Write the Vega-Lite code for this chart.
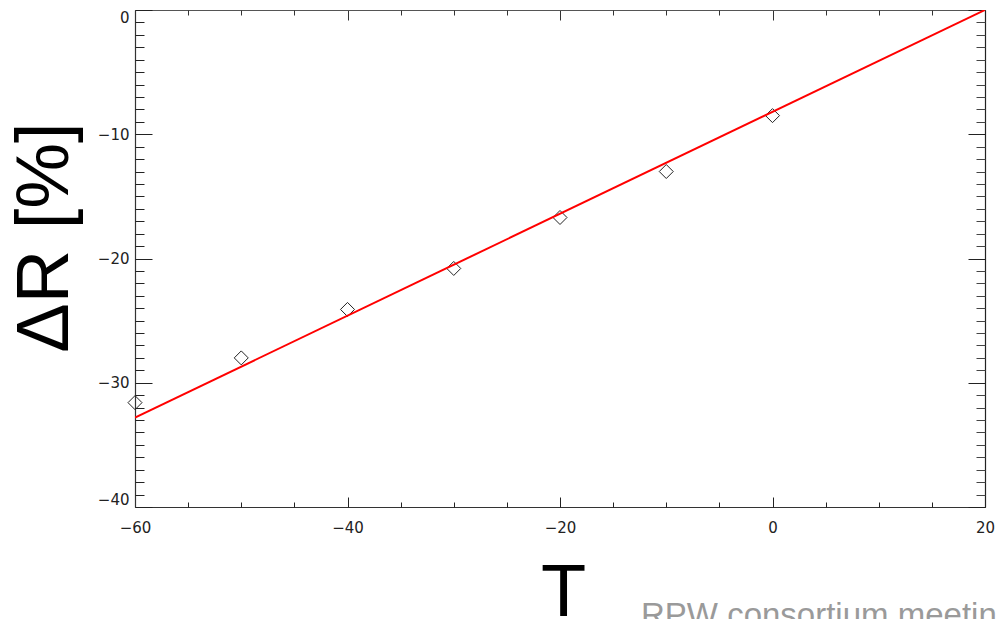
{
  "$schema": "https://vega.github.io/schema/vega-lite/v6.json",
  "width": 850,
  "height": 497,
  "autosize": "none",
  "padding": {"left": 135, "top": 10, "right": 11, "bottom": 112},
  "background": "white",
  "config": {"view": {"stroke": null}},
  "title": {"text": "RPW consortium meeting", "orient": "bottom", "anchor": "start", "frame": "group", "dx": 506, "offset": -4, "baseline": "alphabetic", "fontSize": 33, "font": "Liberation Sans", "fontWeight": "normal", "color": "#9a9a9a"},
  "datasets": {
    "points": [
      {"T": -60, "dR": -31.6},
      {"T": -50, "dR": -28.0},
      {"T": -40, "dR": -24.1},
      {"T": -30, "dR": -20.8},
      {"T": -20, "dR": -16.7},
      {"T": -10, "dR": -13.0},
      {"T": 0, "dR": -8.5}
    ],
    "fit": [
      {"T": -60, "dR": -32.8},
      {"T": 20, "dR": 0.0}
    ]
  },
  "resolve": {"axis": {"x": "independent", "y": "independent"}},
  "layer": [
    {
      "data": {"name": "points"},
      "mark": {"type": "point", "shape": "diamond", "size": 196, "filled": false, "stroke": "#222", "strokeWidth": 1, "opacity": 1},
      "encoding": {
        "x": {"field": "T", "type": "quantitative", "scale": {"domain": [-60, 20], "nice": false, "zero": false},
          "axis": {"orient": "bottom", "values": [-60, -40, -20, 0, 20], "ticks": false, "grid": false, "domain": true, "domainColor": "#333", "domainWidth": 1.2, "labelFlush": false, "labelFont": "DejaVu Sans", "labelFontSize": 15, "labelColor": "#222", "labelPadding": 13,
            "title": "T", "titleFont": "Liberation Sans", "titleFontSize": 74, "titleFontWeight": "normal", "titleColor": "#000", "titleBaseline": "alphabetic", "titleAlign": "center", "titleX": 428, "titleY": 108}},
        "y": {"field": "dR", "type": "quantitative", "scale": {"domain": [-40, 0], "nice": false, "zero": false},
          "axis": {"orient": "left", "values": [-40, -30, -20, -10, 0], "ticks": false, "grid": false, "domain": true, "domainColor": "#333", "domainWidth": 1.2, "labelFlush": true, "labelFont": "DejaVu Sans", "labelFontSize": 15, "labelColor": "#222", "labelPadding": 6,
            "title": "ΔR [%]", "titleFont": "Liberation Sans", "titleFontSize": 74, "titleFontWeight": "normal", "titleColor": "#000", "titleAngle": -90, "titleBaseline": "alphabetic", "titleAlign": "center", "titleX": -68, "titleY": 227}}
      }
    },
    {
      "data": {"name": "fit"},
      "mark": {"type": "line", "color": "#ff0000", "strokeWidth": 2, "clip": true},
      "encoding": {
        "x": {"field": "T", "type": "quantitative",
          "axis": {"orient": "bottom", "values": [-60, -40, -20, 0, 20], "labels": false, "domain": false, "grid": false, "ticks": true, "tickSize": -10, "tickColor": "#222", "tickWidth": 1, "title": null}},
        "y": {"field": "dR", "type": "quantitative",
          "axis": {"orient": "left", "values": [-40, -30, -20, -10, 0], "labels": false, "domain": false, "grid": false, "ticks": true, "tickSize": -17, "tickColor": "#222", "tickWidth": 1, "title": null}}
      }
    },
    {
      "data": {"name": "points"},
      "mark": {"type": "point", "opacity": 0},
      "encoding": {
        "x": {"field": "T", "type": "quantitative",
          "axis": {"orient": "bottom", "values": [-55, -50, -45, -35, -30, -25, -15, -10, -5, 5, 10, 15], "labels": false, "domain": false, "grid": false, "ticks": true, "tickSize": -5, "tickColor": "#222", "tickWidth": 1, "title": null}},
        "y": {"field": "dR", "type": "quantitative",
          "axis": {"orient": "left", "values": [-39, -38, -37, -36, -35, -34, -33, -32, -31, -29, -28, -27, -26, -25, -24, -23, -22, -21, -19, -18, -17, -16, -15, -14, -13, -12, -11, -9, -8, -7, -6, -5, -4, -3, -2, -1], "labels": false, "domain": false, "grid": false, "ticks": true, "tickSize": -9, "tickColor": "#222", "tickWidth": 1, "title": null}}
      }
    },
    {
      "data": {"name": "points"},
      "mark": {"type": "point", "opacity": 0},
      "encoding": {
        "x": {"field": "T", "type": "quantitative",
          "axis": {"orient": "top", "values": [-60, -40, -20, 0, 20], "labels": false, "domain": true, "domainColor": "#555", "domainWidth": 1.2, "grid": false, "ticks": true, "tickSize": -10, "tickColor": "#333", "tickWidth": 1, "title": null}},
        "y": {"field": "dR", "type": "quantitative",
          "axis": {"orient": "right", "values": [-40, -30, -20, -10, 0], "labels": false, "domain": true, "domainColor": "#222", "domainWidth": 1.2, "grid": false, "ticks": true, "tickSize": -17, "tickColor": "#222", "tickWidth": 1, "title": null}}
      }
    },
    {
      "data": {"name": "points"},
      "mark": {"type": "point", "opacity": 0},
      "encoding": {
        "x": {"field": "T", "type": "quantitative",
          "axis": {"orient": "top", "values": [-55, -50, -45, -35, -30, -25, -15, -10, -5, 5, 10, 15], "labels": false, "domain": false, "grid": false, "ticks": true, "tickSize": -5, "tickColor": "#333", "tickWidth": 1, "title": null}},
        "y": {"field": "dR", "type": "quantitative",
          "axis": {"orient": "right", "values": [-39, -38, -37, -36, -35, -34, -33, -32, -31, -29, -28, -27, -26, -25, -24, -23, -22, -21, -19, -18, -17, -16, -15, -14, -13, -12, -11, -9, -8, -7, -6, -5, -4, -3, -2, -1], "labels": false, "domain": false, "grid": false, "ticks": true, "tickSize": -9, "tickColor": "#444", "tickWidth": 1, "title": null}}
      }
    }
  ]
}
